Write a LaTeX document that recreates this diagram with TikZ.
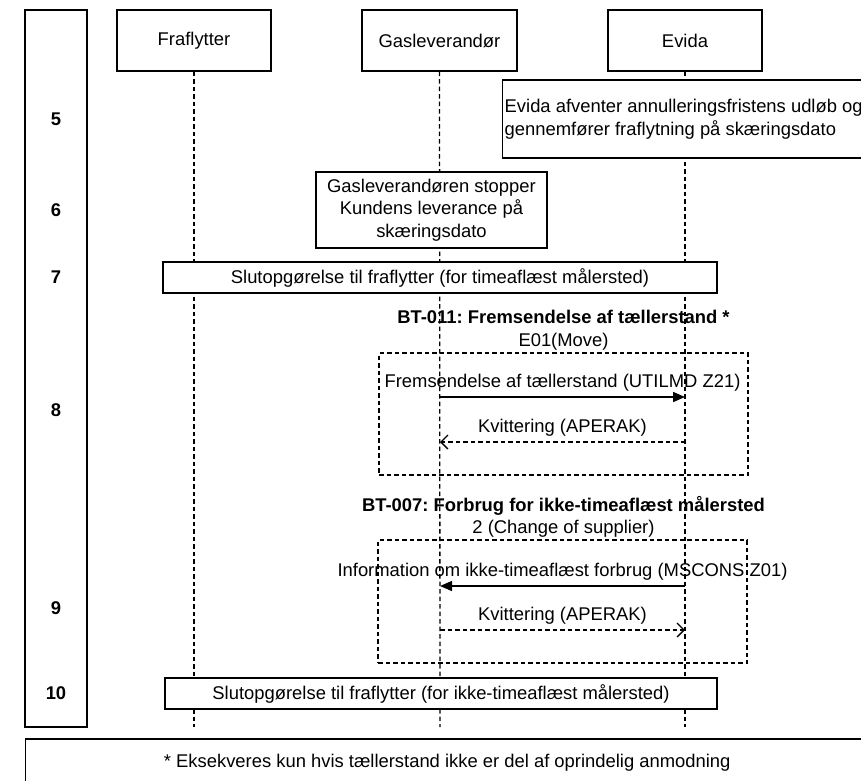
\documentclass[tikz,border=0pt]{standalone}
\usepackage{fontspec}
\setmainfont{Liberation Sans}
\usetikzlibrary{arrows.meta}
\frenchspacing

\begin{document}
\begin{tikzpicture}[x=1pt, y=-1pt,
    every node/.style={font=\fontsize{18.4}{22.5}\selectfont},
    box/.style={draw, fill=white, line width=1.4pt, inner sep=2pt, align=center},
    lifeline/.style={line width=1.3pt, dash pattern=on 4.5pt off 3pt},
    group/.style={draw, line width=1.3pt, dash pattern=on 4.5pt off 3pt},
    num/.style={font=\fontsize{18.4}{22.5}\selectfont\bfseries},
    msg/.style={-{Triangle[length=12pt,width=10pt]}, line width=1.4pt},
    reply/.style={-{Straight Barb[length=7pt,width=14pt]}, line width=1.3pt, dash pattern=on 4.5pt off 3pt}
  ]
    \useasboundingbox (0,0) rectangle (861,780);

    % Define nodes
    \node[box, minimum width=62, minimum height=717] (steps) at (56,368.5) {};
    \node[box, minimum width=154, minimum height=61] (fraflytter) at (194,40.5) {Fraflytter};
    \node[box, minimum width=155, minimum height=61] (gaslev) at (439.5,40.5) {Gasleverandør};
    \node[box, minimum width=154, minimum height=61] (evida) at (685,40.5) {Evida};

    % Lifelines
    \coordinate (fraflytterEnd) at (194,727);
    \coordinate (gaslevEnd) at (440,727);
    \coordinate (evidaEnd) at (685,727);
    \draw[lifeline] (fraflytter) -- (fraflytterEnd);
    \draw[lifeline] (gaslev) -- (gaslevEnd);
    \draw[lifeline] (evida) -- (evidaEnd);

    % Step numbers
    \node[num] (n5) at (56,119) {5};
    \node[num] (n6) at (56,210) {6};
    \node[num] (n7) at (56,277.5) {7};
    \node[num] (n8) at (56,410) {8};
    \node[num] (n9) at (56,608) {9};
    \node[num] (n10) at (56,693.5) {10};

    % Steps
    \node[box, anchor=west, align=left, minimum width=358, minimum height=78] (step5) at (502,119)
        {Evida afventer annulleringsfristens udløb og\\gennemfører fraflytning på skæringsdato};
    \node[box, minimum width=231, minimum height=76] (step6) at (431.5,210)
        {Gasleverandøren stopper\\Kundens leverance på\\skæringsdato};
    \node[box, minimum width=554, minimum height=31] (step7) at (440,277.5)
        {Slutopgørelse til fraflytter (for timeaflæst målersted)};
    \node[box, minimum width=552, minimum height=31] (step10) at (441,693.5)
        {Slutopgørelse til fraflytter (for ikke-timeaflæst målersted)};

    % BT-011
    \node[align=center, inner sep=0pt] (bt011) at (563.5,330)
        {\bfseries BT-011: Fremsendelse af tællerstand *\\E01(Move)};
    \node[group, minimum width=369, minimum height=122] (bt011box) at (563.5,414) {};
    \coordinate (m1s) at (440,397);
    \coordinate (m1e) at (685,397);
    \coordinate (m2s) at (685,442);
    \coordinate (m2e) at (440,442);
    \draw[msg] (m1s) -- (m1e) node[midway, above=5pt, inner sep=0pt] {Fremsendelse af tællerstand (UTILMD Z21)};
    \draw[reply] (m2s) -- (m2e) node[midway, above=5pt, inner sep=0pt] {Kvittering (APERAK)};

    % BT-007
    \node[align=center, inner sep=0pt] (bt007) at (563.5,517)
        {\bfseries BT-007: Forbrug for ikke-timeaflæst målersted\\2 (Change of supplier)};
    \node[group, minimum width=369, minimum height=123] (bt007box) at (562.5,601.5) {};
    \coordinate (m3s) at (685,586);
    \coordinate (m3e) at (440,586);
    \coordinate (m4s) at (440,630);
    \coordinate (m4e) at (685,630);
    \draw[msg] (m3s) -- (m3e) node[midway, above=5pt, inner sep=0pt] {Information om ikke-timeaflæst forbrug (MSCONS Z01)};
    \draw[reply] (m4s) -- (m4e) node[midway, above=5pt, inner sep=0pt] {Kvittering (APERAK)};

    % Footnote
    \node[box, anchor=west, minimum width=843, minimum height=48] (note) at (25,763)
        {* Eksekveres kun hvis tællerstand ikke er del af oprindelig anmodning};
\end{tikzpicture}
\end{document}
